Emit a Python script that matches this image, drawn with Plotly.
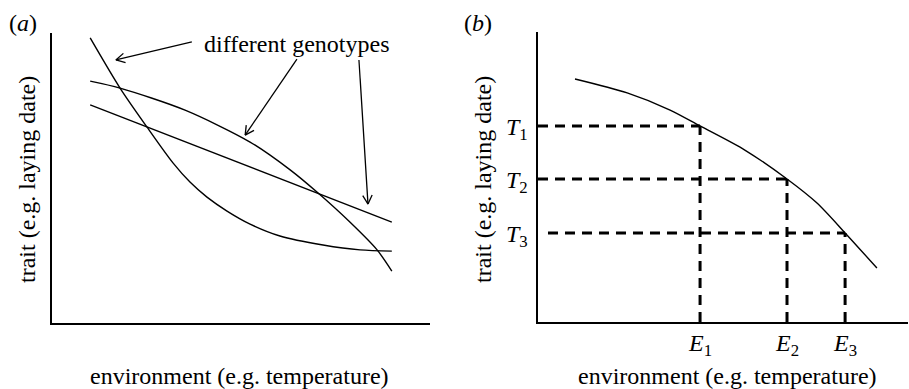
import math
import plotly.graph_objects as go

W, H = 909, 389
FONT = "Liberation Serif"
FS = 24

# ---------------- data (arbitrary units, 0-100 on each axis) ----------------
# panel (a): three genotypes' reaction norms
geno1_x = [10.1, 18.0, 25.1, 32.0, 36.5, 41.0, 46.3, 52.4, 60.3, 71.7, 81.5, 89.9]
geno1_y = [98.3, 81.0, 67.6, 55.2, 48.6, 43.4, 38.6, 34.1, 30.0, 26.9, 25.2, 24.8]
geno2_x = [10.1, 18.0, 35.2, 52.4, 63.0, 70.4, 78.8, 86.0, 89.9]
geno2_y = [83.4, 81.0, 73.4, 62.4, 52.8, 44.8, 34.8, 25.2, 17.9]
geno3_x = [10.1, 89.9]
geno3_y = [75.2, 34.8]

# panel (b): single reaction norm with three environments
norm_x = [10.0, 24.1, 35.7, 43.8, 55.9, 67.3, 75.4, 83.0, 91.6]
norm_y = [83.8, 79.0, 73.1, 67.6, 59.3, 49.3, 41.0, 30.7, 18.6]
env_vals = [43.8, 67.3, 83.0]
trait_vals = [67.6, 49.3, 30.7]
env_labels = ["<i>E</i><sub>1</sub>", "<i>E</i><sub>2</sub>", "<i>E</i><sub>3</sub>"]
trait_labels = ["<i>T</i><sub>1</sub>", "<i>T</i><sub>2</sub>", "<i>T</i><sub>3</sub>"]
trait_line_start = [0, 0, 2.7]

# arrows in panel (a): tails and tips
arrow_tail_x = [37.0, 64.8, 81.2]
arrow_tail_y = [96.9, 91.0, 90.7]
arrow_tip_x = [16.9, 51.1, 83.6]
arrow_tip_y = [90.7, 64.8, 41.0]

# ---------------- layout geometry (pixels) ----------------
A_L, A_R, A_T, A_B = 52, 430, 33, 323
B_L, B_R, B_T, B_B = 538, 908, 32, 322

def px_x(p):
    return p / W

def px_y(p):
    return 1 - p / H

fig = go.Figure()
LW = 1.4
for xs, ys in [(geno1_x, geno1_y), (geno2_x, geno2_y), (geno3_x, geno3_y)]:
    fig.add_trace(go.Scatter(x=xs, y=ys, mode="lines", xaxis="x", yaxis="y",
                             line=dict(color="black", width=LW, shape="spline", smoothing=0.8),
                             showlegend=False, hoverinfo="skip"))

fig.add_trace(go.Scatter(x=norm_x, y=norm_y, mode="lines", xaxis="x2", yaxis="y2",
                         line=dict(color="black", width=LW, shape="spline", smoothing=0.8),
                         showlegend=False, hoverinfo="skip"))

DASH = dict(color="black", width=3, dash="10px,7px")
for e, t, s in zip(env_vals, trait_vals, trait_line_start):
    fig.add_trace(go.Scatter(x=[s, e], y=[t, t], mode="lines", xaxis="x2", yaxis="y2",
                             line=DASH, showlegend=False, hoverinfo="skip"))
    fig.add_trace(go.Scatter(x=[e, e], y=[0, t], mode="lines", xaxis="x2", yaxis="y2",
                             line=DASH, showlegend=False, hoverinfo="skip"))

# arrows (shaft + open V head), head computed in pixel space
sx = (A_R - A_L) / 100.0   # px per x unit
sy = (A_B - A_T) / 100.0   # px per y unit
HEAD = 10.0
ANG = math.radians(28)
ax_pts, ay_pts = [], []
for tx, ty, hx, hy in zip(arrow_tail_x, arrow_tail_y, arrow_tip_x, arrow_tip_y):
    dx, dy = (tx - hx) * sx, (ty - hy) * sy
    n = math.hypot(dx, dy)
    ux, uy = dx / n, dy / n
    ax_pts += [tx, hx, None]
    ay_pts += [ty, hy, None]
    for sgn in (1, -1):
        c, s_ = math.cos(sgn * ANG), math.sin(sgn * ANG)
        rx, ry = ux * c - uy * s_, ux * s_ + uy * c
        ax_pts += [hx, hx + rx * HEAD / sx, None]
        ay_pts += [hy, hy + ry * HEAD / sy, None]
fig.add_trace(go.Scatter(x=ax_pts, y=ay_pts, mode="lines", xaxis="x", yaxis="y",
                         line=dict(color="black", width=1.3), showlegend=False,
                         hoverinfo="skip", connectgaps=False))

axis_common = dict(showgrid=False, zeroline=False, showticklabels=False, ticks="",
                   showline=True, linecolor="black", linewidth=2, range=[0, 100],
                   fixedrange=True)

fig.update_layout(
    width=W, height=H,
    margin=dict(l=0, r=0, t=0, b=0),
    paper_bgcolor="white", plot_bgcolor="white",
    font=dict(family=FONT, size=FS, color="black"),
    xaxis=dict(domain=[px_x(A_L), px_x(A_R)], anchor="y", **axis_common),
    yaxis=dict(domain=[px_y(A_B), px_y(A_T)], anchor="x", **axis_common),
    xaxis2=dict(domain=[px_x(B_L), px_x(B_R)], anchor="y2", **axis_common),
    yaxis2=dict(domain=[px_y(B_B), px_y(B_T)], anchor="x2", **axis_common),
)

F = dict(family=FONT, size=FS, color="black")
ann = []
ann.append(dict(text="(<i>a</i>)", x=px_x(23), y=px_y(23), xref="paper", yref="paper",
                showarrow=False, xanchor="center", yanchor="middle", font=F))
ann.append(dict(text="(<i>b</i>)", x=px_x(478), y=px_y(23), xref="paper", yref="paper",
                showarrow=False, xanchor="center", yanchor="middle", font=F))
for cx in (27, 483):
    ann.append(dict(text="trait (e.g. laying date)", x=px_x(cx), y=px_y(180), xref="paper",
                    yref="paper", showarrow=False, textangle=-90, xanchor="center",
                    yanchor="middle", font=F))
for cx in (240, 727):
    ann.append(dict(text="environment (e.g. temperature)", x=px_x(cx), y=px_y(376),
                    xref="paper", yref="paper", showarrow=False, xanchor="center",
                    yanchor="middle", font=F))
ann.append(dict(text="different genotypes", x=px_x(297), y=px_y(44), xref="paper",
                yref="paper", showarrow=False, xanchor="center", yanchor="middle", font=F))
for e, lab in zip(env_vals, env_labels):
    ann.append(dict(text=lab, x=e, y=0, xref="x2", yref="y2", showarrow=False,
                    xanchor="center", yanchor="top", yshift=-6, font=F))
for t, lab in zip(trait_vals, trait_labels):
    ann.append(dict(text=lab, x=0, y=t, xref="x2", yref="y2", showarrow=False,
                    xanchor="right", yanchor="middle", xshift=-8, yshift=-3, font=F))

fig.update_layout(annotations=ann)
fig.write_html("out.html",
               config={"displayModeBar": False, "staticPlot": True},
               post_script="document.body.style.margin='0';document.body.style.padding='0';"
                           "document.body.style.overflow='hidden';")
